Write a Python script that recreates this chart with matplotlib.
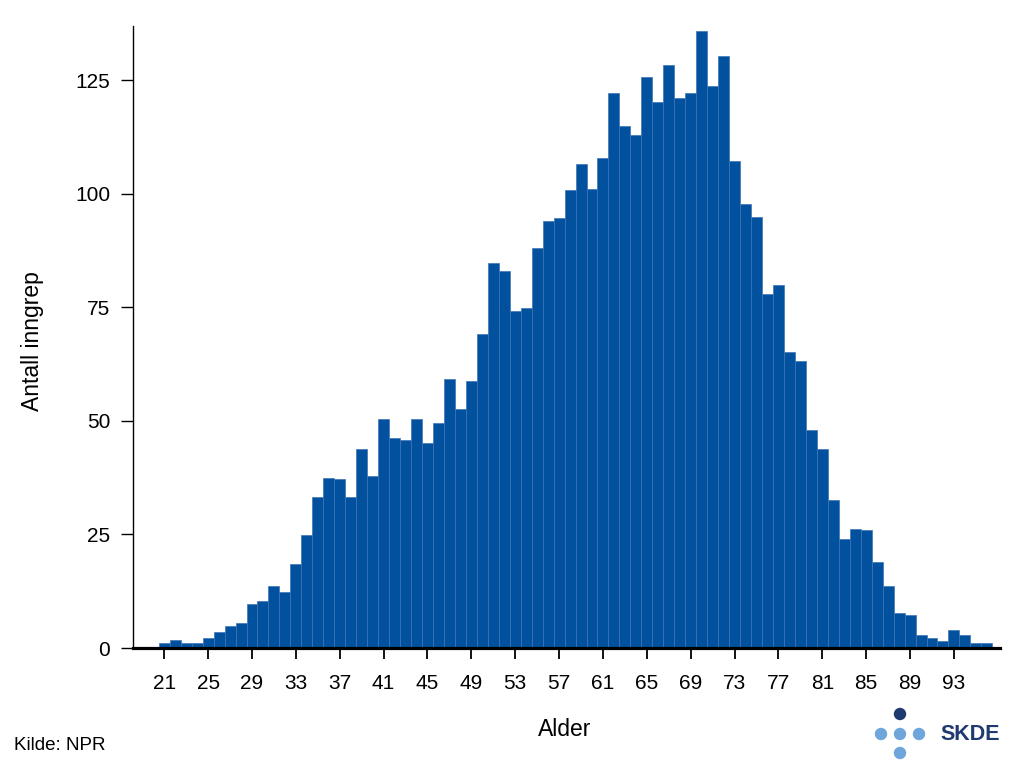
"""Age distribution of procedures (NPR), recreated as a bar chart."""

import matplotlib

matplotlib.use("Agg")
import matplotlib.pyplot as plt
from matplotlib.patches import Circle
from matplotlib.transforms import IdentityTransform

# ---------------------------------------------------------------------------
# Data
# ---------------------------------------------------------------------------
AGES = list(range(21, 97))
COUNTS = [
    1.2, 1.7, 1.2, 1.2, 2.3, 3.6, 4.9, 5.5, 9.6, 10.3,       # 21-30
    13.6, 12.3, 18.6, 24.8, 33.2, 37.5, 37.2, 33.2, 43.9, 37.9,  # 31-40
    50.5, 46.2, 45.9, 50.5, 45.2, 49.6, 59.2, 52.6, 58.9, 69.2,  # 41-50
    84.8, 83.1, 74.2, 74.8, 88.2, 94.1, 94.8, 100.8, 106.5, 101.1,  # 51-60
    107.9, 122.2, 114.9, 112.9, 125.8, 120.2, 128.3, 121.1, 122.2, 135.9,  # 61-70
    123.8, 130.4, 107.2, 97.9, 94.9, 77.9, 79.9, 65.3, 63.3, 48.0,  # 71-80
    43.9, 32.5, 23.9, 26.3, 25.9, 18.9, 13.6, 7.6, 7.2, 2.9,  # 81-90
    2.3, 1.6, 3.9, 2.8, 1.2, 1.2,  # 91-96
]
X_TICKS = list(range(21, 94, 4))
Y_TICKS = [0, 25, 50, 75, 100, 125]

# ---------------------------------------------------------------------------
# Style tokens
# ---------------------------------------------------------------------------
BAR = "#02519e"
BAR_EDGE = "#3d74b6"
LOGO_DARK = "#1f3a70"
LOGO_LIGHT = "#6ea6dc"
FONT = "Liberation Sans"

plt.rcParams["font.family"] = [FONT, "DejaVu Sans"]

fig = plt.figure(figsize=(10.25, 7.77), dpi=100, facecolor="white")
ax = fig.add_axes([133 / 1025, 1 - 648 / 777, (1000 - 133) / 1025, (648 - 26) / 777])

ax.bar(AGES, COUNTS, width=1.0, color=BAR, edgecolor=BAR_EDGE, linewidth=0.5)

ax.set_xlim(18.15, 97.2)
ax.set_ylim(0, 137)
ax.set_xticks(X_TICKS)
ax.set_yticks(Y_TICKS)

for name in ("top", "right"):
    ax.spines[name].set_visible(False)
ax.spines["left"].set_linewidth(1.0)
ax.spines["bottom"].set_linewidth(2.3)
ax.spines["bottom"].set_zorder(5)

ax.tick_params(axis="x", length=8, width=1.3, pad=11, labelsize=15)
ax.tick_params(axis="y", length=8.5, width=1.0, pad=8, labelsize=15)

fig.text(565 / 1025, 1 - 730 / 777, "Alder", ha="center", va="center", fontsize=16.5)
fig.text(33 / 1025, 1 - 341 / 777, "Antall inngrep", ha="center", va="center",
         rotation=90, fontsize=16.5)
fig.text(14 / 1025, 1 - 746 / 777, "Kilde: NPR", ha="left", va="center", fontsize=13.5)

# SKDE logo: cross of dots plus wordmark (pixel coordinates)
H = 777
dots = [
    (900, 714, LOGO_DARK),
    (881, 734, LOGO_LIGHT),
    (900, 734, LOGO_LIGHT),
    (919, 734, LOGO_LIGHT),
    (900, 753, LOGO_LIGHT),
]
for x, y, c in dots:
    fig.add_artist(Circle((x, H - y), 6.2, transform=IdentityTransform(),
                          color=c, linewidth=0))
fig.text(940 / 1025, 1 - 734 / 777, "SKDE", ha="left", va="center",
         fontsize=15.5, fontweight="bold", color=LOGO_DARK)

fig.savefig("out.png", dpi=100, facecolor="white")
